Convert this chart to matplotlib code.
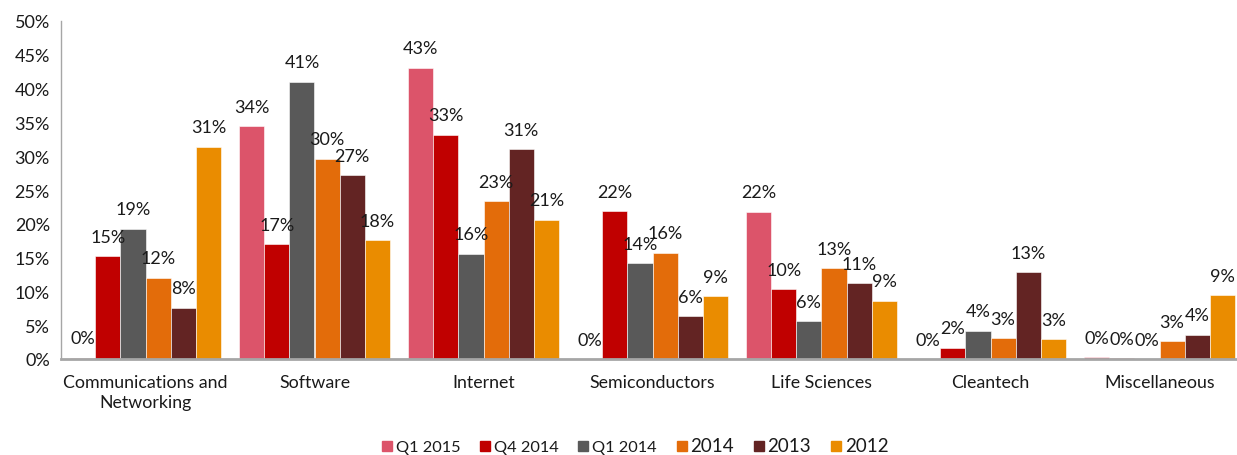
import matplotlib
matplotlib.use("Agg")
import matplotlib.pyplot as plt
import numpy as np
from matplotlib.lines import Line2D

categories = ["Communications and\nNetworking", "Software", "Internet", "Semiconductors",
              "Life Sciences", "Cleantech", "Miscellaneous"]
series_names = ["Q1 2015", "Q4 2014", "Q1 2014", "2014", "2013", "2012"]
q1_2015 = [0.2, 34.4, 43.1, 0.0, 21.8, 0.0, 0.25]
q4_2014 = [15.2, 17.0, 33.2, 21.9, 10.3, 1.7, 0.15]
q1_2014 = [19.3, 41.0, 15.6, 14.2, 5.6, 4.2, 0.0]
y2014 = [12.0, 29.6, 23.3, 15.7, 13.4, 3.1, 2.6]
y2013 = [7.6, 27.2, 31.0, 6.3, 11.2, 12.8, 3.6]
y2012 = [31.4, 17.6, 20.6, 9.3, 8.6, 2.9, 9.4]
series = [q1_2015, q4_2014, q1_2014, y2014, y2013, y2012]
colors = ["#DC546A", "#C00000", "#595959", "#E36C0A", "#632423", "#EA8C00"]
yticks = [0, 5, 10, 15, 20, 25, 30, 35, 40, 45, 50]

plt.rcParams['font.family'] = ['Lato', 'DejaVu Sans']

W, H = 1237, 456
fig = plt.figure(figsize=(W / 100, H / 100), dpi=100)
ax = fig.add_axes([61 / W, 1 - 360 / H, 1183 / W, (360 - 22) / H])

x = np.arange(len(categories))
bw = 0.149
n = len(series)
for i, (vals, col) in enumerate(zip(series, colors)):
    pos = x + (i - (n - 1) / 2) * bw
    ax.bar(pos, vals, width=bw, color=col, edgecolor='white', linewidth=0.4)
    for px, v in zip(pos, vals):
        ax.annotate(f"{round(v)}%", (px, v), xytext=(0, 14), textcoords='offset points',
                    ha='center', va='center', fontsize=13, color='#1a1a1a')

ax.set_xlim(-0.5, len(categories) - 0.5)
ax.set_ylim(0, 50)
ax.set_yticks(yticks)
ax.set_yticklabels([f"{t}%" for t in yticks], fontsize=13, color='#1a1a1a')
ax.set_xticks(x)
ax.set_xticklabels(categories, fontsize=12.8, color='#1a1a1a', linespacing=1.25)
ax.tick_params(axis='both', length=0)
ax.tick_params(axis='x', pad=11)
ax.tick_params(axis='y', pad=8)
for s in ['top', 'right']:
    ax.spines[s].set_visible(False)
ax.spines['left'].set_color('#A6A6A6')
ax.spines['left'].set_linewidth(1.0)
ax.spines['bottom'].set_color('#A6A6A6')
ax.spines['bottom'].set_linewidth(2.0)

handles = [Line2D([0], [0], marker='s', linestyle='none', markersize=7.5,
                  markerfacecolor=c, markeredgecolor=c) for c in colors]
leg = fig.legend(handles, series_names, loc='center', bbox_to_anchor=(634 / W, 1 - 447 / H),
                 ncol=6, frameon=False, handletextpad=0.1, columnspacing=1.1,
                 handlelength=0.9, fontsize=11.5)
for t in leg.get_texts():
    if t.get_text().startswith('Q'):
        t.set_fontsize(11.8)
    else:
        t.set_fontsize(13.5)
    t.set_color('#1a1a1a')

fig.savefig("out.png", dpi=100)
